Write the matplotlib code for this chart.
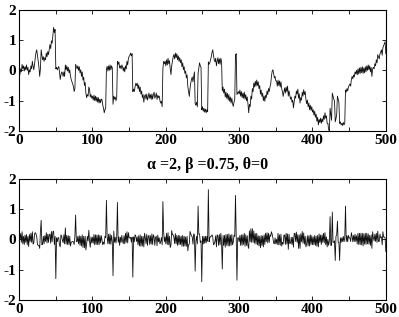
import numpy as np
import matplotlib
matplotlib.use("Agg")
import matplotlib.pyplot as plt
from matplotlib.ticker import FixedLocator

# Top series: path of the process (500 samples)
top_values = [
    -0.14, 0.05, -0.05, 0.20, 0.05, 0.15, -0.02, 0.12, 0.02, 0.18,
    0.00, 0.10, -0.14, 0.02, -0.05, 0.15, 0.05, 0.30, 0.14, 0.02,
    0.20, 0.42, 0.60, 0.68, 0.50, 0.30, 0.10, -0.20, 0.05, 0.68,
    0.50, 0.35, 0.45, 0.30, 0.42, 0.35, 0.57, 0.45, 0.62, 0.52,
    0.68, 0.85, 0.72, 0.98, 0.90, 1.15, 1.42, 1.25, 1.35, 0.05,
    0.10, 0.02, 0.08, 0.13, -0.05, -0.30, -0.15, -0.05, -0.09, -0.20,
    -0.05, -0.20, 0.18, 0.02, 0.15, -0.02, 0.10, -0.08, 0.02, -0.20,
    -0.30, -0.38, -0.45, -0.53, -0.70, -0.60, 0.20, 0.13, 0.05, 0.15,
    0.00, 0.12, -0.08, 0.02, -0.20, -0.05, -0.32, -0.22, -0.50, -0.40,
    -0.75, -0.90, -0.80, -0.85, -0.55, -0.62, -0.88, -0.80, -0.92, -0.85,
    -0.98, -0.82, -1.00, -0.85, -1.02, -0.88, -1.05, -0.90, -1.08, -0.95,
    -1.07, -0.95, -0.97, -1.15, -1.24, -1.40, -1.30, -1.24, 0.05, 0.13,
    -0.02, 0.15, 0.00, 0.18, 0.02, 0.15, 0.08, -1.12, -0.85, -0.95,
    -0.88, -1.00, -0.92, 0.30, 0.20, 0.28, 0.08, 0.15, 0.05, 0.18,
    0.12, -0.02, 0.10, -0.05, 0.15, 0.05, 0.30, 0.18, 0.40, 0.46,
    0.50, 0.57, 0.48, 0.55, -0.70, -0.62, -0.70, -0.55, -0.43, -0.50,
    -0.42, -0.60, -0.48, -0.70, -0.55, -0.78, -0.68, -0.90, -0.80, -1.05,
    -0.85, -0.80, -0.95, -0.78, -0.98, -0.88, -0.75, -0.92, -0.80, -0.96,
    -0.78, -0.95, -0.80, -0.72, -0.92, -0.85, -0.75, -0.96, -0.82, -0.90,
    -0.85, -1.00, -1.08, -1.02, -1.20, 0.05, 0.30, 0.22, 0.30, 0.15,
    0.35, 0.18, 0.40, 0.22, 0.32, 0.05, -0.14, 0.15, 0.30, 0.45,
    0.52, 0.38, 0.57, 0.42, 0.55, 0.35, 0.48, 0.30, 0.42, 0.25,
    0.35, 0.12, 0.25, 0.02, 0.12, -0.10, -0.02, -0.25, -0.15, -0.53,
    -0.70, -0.86, -0.60, -0.42, -0.30, -0.22, -0.38, -0.20, -0.05, -1.10,
    -1.15, -1.05, -1.20, -0.10, 0.07, 0.25, 0.15, 0.10, -1.30, -1.20,
    -1.35, -1.25, -1.38, -1.28, -1.40, -1.30, -1.36, 0.28, 0.20, 0.25,
    0.35, 0.45, 0.60, 0.68, 0.50, 0.35, 0.28, 0.40, 0.15, 0.30,
    0.42, 0.22, 0.38, 0.20, 0.40, 0.30, -0.68, -0.55, -0.75, -0.62,
    -0.88, -0.72, -0.92, -0.76, -0.98, -0.80, -1.02, -0.88, -1.08, -0.92,
    -1.10, -1.19, -1.05, -0.95, 0.50, 0.55, -0.80, -0.75, -0.70, -0.78,
    -0.65, -0.85, -0.70, -0.90, -0.75, -0.92, -0.72, -0.95, -0.80, -1.00,
    -0.88, -1.10, -1.40, -1.12, -1.20, -0.85, -0.95, -0.60, -0.70, -0.42,
    -0.55, -0.36, -0.52, -0.32, -0.50, -0.38, -0.60, -0.50, -0.78, -0.65,
    -0.86, -0.75, -1.00, -0.85, -1.02, -0.82, -0.90, -0.68, -0.80, -0.60,
    -0.70, -0.55, -0.45, -0.20, -0.03, 0.02, -0.10, -0.25, -0.20, -0.35,
    -0.35, -0.52, -0.32, -0.50, -0.35, -0.55, -0.38, -0.60, -0.70, -0.86,
    -0.72, -0.58, -0.75, -0.55, -0.70, -0.52, -0.85, -0.68, -0.82, -0.95,
    -0.88, -1.05, -0.98, -1.24, -1.05, -0.85, -0.92, -0.68, -0.78, -0.62,
    -0.92, -0.78, -1.08, -0.90, -0.98, -0.72, -0.85, -0.64, -0.80, -0.70,
    -0.95, -1.10, -0.98, -1.20, -1.08, -1.30, -1.15, -1.32, -1.20, -1.38,
    -1.30, -1.48, -1.35, -1.55, -1.45, -1.68, -1.55, -1.80, -1.62, -1.72,
    -1.58, -1.75, -1.60, -1.70, -1.50, -1.62, -1.40, -1.58, -1.50, -1.75,
    -1.75, -1.95, -2.00, -1.25, -1.45, -1.65, -0.75, -0.85, -0.95, -1.00,
    -1.70, -1.60, -1.45, -0.85, -0.95, -1.05, -1.75, -1.70, -1.80, -1.75,
    -1.82, -1.72, -1.80, -1.75, -0.65, -0.72, -0.60, -0.68, -0.55, -0.50,
    -0.45, -0.52, -0.30, -0.20, -0.28, -0.15, -0.22, -0.05, -0.12, 0.00,
    -0.15, 0.05, -0.12, 0.08, -0.10, 0.10, -0.08, 0.12, -0.10, 0.08,
    -0.08, 0.12, -0.05, 0.15, 0.00, 0.18, 0.02, 0.15, -0.05, 0.10,
    -0.20, 0.05, 0.10, 0.05, 0.22, 0.15, 0.35, 0.25, 0.52, 0.45,
    0.38, 0.55, 0.60, 0.68, 0.50, 0.75, 0.82, 0.90, 0.95, 0.55,
]
# Bottom series: increments of the top path
bottom_values = np.diff(np.asarray(top_values), prepend=top_values[0])
sample_index = np.arange(1, len(top_values) + 1)

title_text = "α =2, β =0.75, θ=0"
x_major = [0, 100, 200, 300, 400, 500]
x_minor = [50, 150, 250, 350, 450]
y_ticks = [-2, -1, 0, 1, 2]

plt.rcParams['font.family'] = ['Liberation Serif', 'DejaVu Serif']
plt.rcParams['font.weight'] = 'bold'

fig = plt.figure(figsize=(3.99, 3.17), dpi=100)
ax1 = fig.add_axes([0.048, 0.587, 0.919, 0.382])
ax2 = fig.add_axes([0.048, 0.054, 0.919, 0.382])

for ax, data in ((ax1, top_values), (ax2, bottom_values)):
    ax.plot(sample_index, data, color='#111111', linewidth=0.6)
    ax.set_xlim(0, 500)
    ax.set_ylim(-2, 2)
    ax.xaxis.set_major_locator(FixedLocator(x_major))
    ax.xaxis.set_minor_locator(FixedLocator(x_minor))
    ax.yaxis.set_major_locator(FixedLocator(y_ticks))
    ax.set_yticklabels([str(v) for v in y_ticks])
    ax.tick_params(which='both', direction='in', top=True, right=True,
                   length=3, width=0.6, labelsize=11, pad=2)
    for lab in ax.get_xticklabels() + ax.get_yticklabels():
        lab.set_fontweight('bold')
    for sp in ax.spines.values():
        sp.set_linewidth(0.8)

ax2.set_title(title_text, fontsize=11.5, fontweight='bold', pad=7, x=0.515)

fig.savefig("out.png", dpi=100)
